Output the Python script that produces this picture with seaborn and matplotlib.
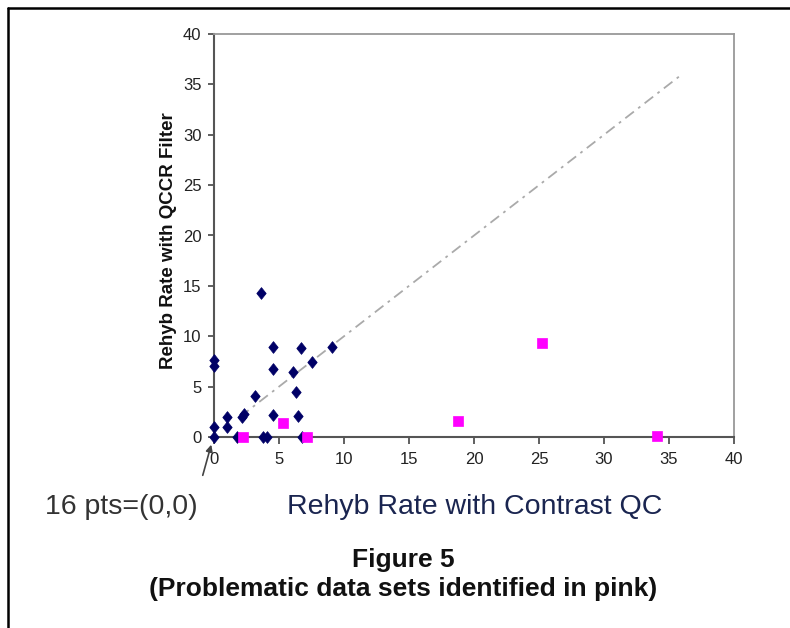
import matplotlib
matplotlib.use("Agg")
import matplotlib.pyplot as plt
from matplotlib.lines import Line2D
from matplotlib.path import Path
import seaborn as sns
import pandas as pd

# ---- data ----
navy_x = [0, 0, 0, 0, 1.02, 1.02, 1.79, 2.13, 2.33, 3.15, 3.59, 3.79, 4.09,
          4.55, 4.55, 4.55, 6.04, 6.30, 6.47, 6.66, 6.80, 7.53, 9.09]
navy_y = [0, 1.0, 7.0, 7.6, 1.0, 1.95, 0, 1.95, 2.28, 4.10, 14.26, 0, 0,
          8.96, 6.75, 2.21, 6.42, 4.43, 2.11, 8.80, 0, 7.41, 8.96]
pink_x = [2.25, 5.28, 7.12, 18.76, 25.2, 34.05]
pink_y = [0, 1.42, 0, 1.6, 9.3, 0.1]
diag_x = [2, 36]
diag_y = [2, 36]
ticks = [0, 5, 10, 15, 20, 25, 30, 35, 40]

x_label = "Rehyb Rate with Contrast QC"
y_label = "Rehyb Rate with QCCR Filter"
note = "16 pts=(0,0)"
title1 = "Figure 5"
title2 = "(Problematic data sets identified in pink)"

sns.set_style("white")
plt.rcParams['font.family'] = ['Liberation Sans', 'DejaVu Sans']

fig = plt.figure(figsize=(7.9, 6.28), dpi=100)
ax = fig.add_axes([214/790, 1-437/628, 520/790, 403/628])

navy_df = pd.DataFrame({"x": navy_x, "y": navy_y})
pink_df = pd.DataFrame({"x": pink_x, "y": pink_y})

tall_diamond = Path([(0, 1), (0.8, 0), (0, -1), (-0.8, 0), (0, 1)],
                    [Path.MOVETO, Path.LINETO, Path.LINETO, Path.LINETO, Path.CLOSEPOLY])

ax.plot(diag_x, diag_y, color="#aaaaaa", lw=1.3, ls=(0, (6, 3, 1.5, 3)), zorder=1)
sns.scatterplot(data=navy_df, x="x", y="y", ax=ax, marker=tall_diamond, s=72,
                color="#000066", edgecolor="#000066", linewidth=0.5, zorder=3,
                clip_on=False)
sns.scatterplot(data=pink_df, x="x", y="y", ax=ax, marker="s", s=42,
                color="#ff00ff", edgecolor="#ff00ff", linewidth=0.5, zorder=4,
                clip_on=False)

ax.set_xlim(0, 40)
ax.set_ylim(0, 40)
ax.set_xticks(ticks)
ax.set_yticks(ticks)
ax.set_xticklabels([str(t) for t in ticks], fontsize=12, color="#222222")
ax.set_yticklabels([str(t) for t in ticks], fontsize=12, color="#222222")
ax.tick_params(axis="x", direction="out", length=5, width=1.2, color="#444444", pad=6, bottom=True)
ax.tick_params(axis="y", direction="out", length=4, width=1.2, color="#444444", pad=5, left=True)

ax.set_xlabel("")
ax.set_ylabel(y_label, fontsize=13.5, fontweight="bold", color="#111111")
ax.yaxis.set_label_coords(-0.071, 0.487)

for side in ["left", "bottom"]:
    ax.spines[side].set_color("#555555")
    ax.spines[side].set_linewidth(1.5)
for side in ["top", "right"]:
    ax.spines[side].set_color("#999999")
    ax.spines[side].set_linewidth(1.3)
    ax.spines[side].set_visible(True)

fig.text(475/790, 1-507/628, x_label, ha="center", va="center", fontsize=20.5, color="#1a2550")
fig.text(45/790, 1-507/628, note, ha="left", va="center", fontsize=20.5, color="#333333")
fig.text(403/790, 1-560/628, title1, ha="center", va="center", fontsize=19, fontweight="bold", color="#111111")
fig.text(403/790, 1-589/628, title2, ha="center", va="center", fontsize=19, fontweight="bold", color="#111111")

ax.annotate("", xy=(212/790, 1-442/628), xytext=(202/790, 1-478/628),
            xycoords="figure fraction", textcoords="figure fraction",
            arrowprops=dict(arrowstyle="-|>", color="#444444", lw=1.2, mutation_scale=10),
            annotation_clip=False)

fig.add_artist(Line2D([7.5/790, 7.5/790], [0, 1-8/628], color="black", lw=1.8))
fig.add_artist(Line2D([7.5/790, 1], [1-8/628, 1-8/628], color="black", lw=1.8))

fig.savefig("out.png", dpi=100, facecolor="white")
